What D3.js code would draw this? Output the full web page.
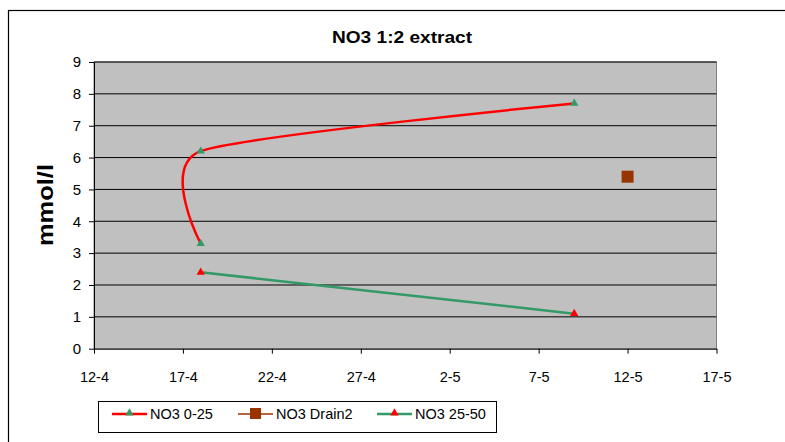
<!DOCTYPE html>
<html><head><meta charset="utf-8">
<script src="https://cdn.jsdelivr.net/npm/d3@7"></script>
<style>body{margin:0;background:#fff}svg{display:block;font-family:"Liberation Sans",Arial,sans-serif}</style>
</head><body><svg id="c" width="785" height="442"></svg>
<script>
const title = "NO3 1:2 extract";
const yLabel = "mmol/l";
const xTickDates = ["2007-04-12","2007-04-17","2007-04-22","2007-04-27","2007-05-02","2007-05-07","2007-05-12","2007-05-17"];
const yTicks = [0,1,2,3,4,5,6,7,8,9];
const s1Name = "NO3 0-25";
const s1Dates = ["2007-04-18","2007-04-18","2007-05-09"];
const s1Values = [3.3, 6.2, 7.7];
const s2Name = "NO3 Drain2";
const s2Dates = ["2007-05-12"];
const s2Values = [5.4];
const s3Name = "NO3 25-50";
const s3Dates = ["2007-04-18","2007-05-09"];
const s3Values = [2.4, 1.1];

const P = d => new Date(d + "T00:00:00Z");
const svg = d3.select("#c");
const L = 94, R = 716.5, T = 62, B = 348.7;
const x = d3.scaleUtc().domain([P(xTickDates[0]), P(xTickDates[xTickDates.length-1])]).range([L, R]);
const y = d3.scaleLinear().domain([0, 9]).range([B, T]);

// outer border
svg.append("rect").attr("x", 8.5).attr("y", 10.5).attr("width", 800).attr("height", 500)
  .attr("fill", "none").attr("stroke", "#000").attr("stroke-width", 1.2);

svg.append("text").attr("x", 402).attr("y", 43).attr("text-anchor", "middle")
  .attr("font-weight", "bold").attr("font-size", 16.5)
  .attr("textLength", 140).attr("lengthAdjust", "spacingAndGlyphs").text(title);

svg.append("rect").attr("x", L).attr("y", T).attr("width", R - L).attr("height", B - T)
  .attr("fill", "#C0C0C0").attr("stroke", "#808080").attr("stroke-width", 1);

// grid
svg.append("g").selectAll("line").data(yTicks.slice(1)).join("line")
  .attr("x1", L).attr("x2", R).attr("y1", d => y(d)).attr("y2", d => y(d))
  .attr("stroke", "#000").attr("stroke-width", 1);

// axes
const xAxis = d3.axisBottom(x).tickValues(xTickDates.map(P))
  .tickFormat(d3.utcFormat("%-d-%-m")).tickSize(5).tickSizeOuter(0).tickPadding(18);
const gx = svg.append("g").attr("transform", `translate(0,${B})`).call(xAxis);
gx.selectAll("text").attr("font-size", 14.5).attr("fill", "#000").attr("font-family", "Liberation Sans, Arial, sans-serif");
gx.select(".domain").attr("stroke", "#000");
gx.selectAll(".tick line").attr("stroke", "#000");

const yAxis = d3.axisLeft(y).tickValues(yTicks).tickSize(5).tickSizeOuter(0).tickPadding(8);
const gy = svg.append("g").attr("transform", `translate(${L},0)`).call(yAxis);
gy.selectAll("text").attr("font-size", 15).attr("fill", "#000").attr("font-family", "Liberation Sans, Arial, sans-serif");
gy.select(".domain").attr("stroke", "#000");
gy.selectAll(".tick line").attr("stroke", "#000");

svg.append("text").attr("transform", `translate(53,205) rotate(-90)`).attr("text-anchor", "middle")
  .attr("font-weight", "bold").attr("font-size", 22)
  .attr("textLength", 82).attr("lengthAdjust", "spacingAndGlyphs").text(yLabel);

const tri = d3.symbol().type(d3.symbolTriangle).size(30);

// series 1 (smoothed)
const d1 = s1Dates.map((d, i) => [x(P(d)), y(s1Values[i])]);
svg.append("path").attr("d", d3.line().curve(d3.curveCardinal.tension(0.35))(d1))
  .attr("fill", "none").attr("stroke", "#FF0000").attr("stroke-width", 2.5);
svg.append("g").selectAll("path").data(d1).join("path").attr("d", tri)
  .attr("transform", d => `translate(${d[0]},${d[1]})`).attr("fill", "#339966");

// series 3
const d3p = s3Dates.map((d, i) => [x(P(d)), y(s3Values[i])]);
svg.append("path").attr("d", d3.line()(d3p))
  .attr("fill", "none").attr("stroke", "#339966").attr("stroke-width", 2.5);
svg.append("g").selectAll("path").data(d3p).join("path").attr("d", tri)
  .attr("transform", d => `translate(${d[0]},${d[1]})`).attr("fill", "#FF0000");

// series 2
const d2 = s2Dates.map((d, i) => [x(P(d)), y(s2Values[i])]);
svg.append("g").selectAll("rect").data(d2).join("rect")
  .attr("x", d => d[0] - 6).attr("y", d => d[1] - 6).attr("width", 12).attr("height", 12)
  .attr("fill", "#993300");

// legend
const lg = svg.append("g");
lg.append("rect").attr("x", 98.5).attr("y", 401.5).attr("width", 398).attr("height", 31)
  .attr("fill", "#fff").attr("stroke", "#000").attr("stroke-width", 1);
const items = [
  {name: s1Name, x0: 112, line: "#FF0000", mark: "tri", mc: "#339966"},
  {name: s2Name, x0: 238, line: "#993300", mark: "sq", mc: "#993300"},
  {name: s3Name, x0: 377, line: "#339966", mark: "tri", mc: "#FF0000"}
];
const ly = 414;
items.forEach(it => {
  lg.append("line").attr("x1", it.x0).attr("x2", it.x0 + 35).attr("y1", ly).attr("y2", ly)
    .attr("stroke", it.line).attr("stroke-width", it.mark === "sq" ? 1.5 : 2.5);
  if (it.mark === "tri") {
    lg.append("path").attr("d", tri).attr("transform", `translate(${it.x0 + 17.5},${ly - 1})`).attr("fill", it.mc);
  } else {
    lg.append("rect").attr("x", it.x0 + 12).attr("y", ly - 6).attr("width", 11).attr("height", 11).attr("fill", it.mc);
  }
  lg.append("text").attr("x", it.x0 + 38).attr("y", ly + 5).attr("font-size", 14.5).text(it.name);
});
</script></body></html>
